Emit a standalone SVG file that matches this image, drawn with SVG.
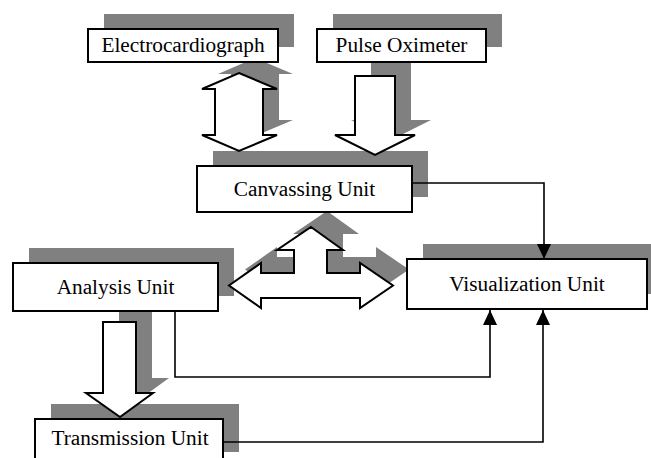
<svg xmlns="http://www.w3.org/2000/svg" width="651" height="458" viewBox="0 0 651 458">
<style>
.sh{fill:#808080;stroke:none}
.box{fill:#fff;stroke:#000;stroke-width:2}
.arr{fill:#fff;stroke:#000;stroke-width:2;stroke-linejoin:miter}
.con{fill:none;stroke:#000;stroke-width:1.6}
text{font-family:"Liberation Serif","Times New Roman",serif;font-size:21.3px;fill:#000;text-anchor:middle}
</style>
<defs>
<marker id="ah" viewBox="0 0 15 14" refX="15" refY="7" markerWidth="15" markerHeight="14" markerUnits="userSpaceOnUse" orient="auto">
<path d="M0,0 L15,7 L0,14 z" fill="#000"/>
</marker>
<polygon id="pEcgArr" points="239,73 277,89 263,89 263,135 277,135 239,151 202,135 215,135 215,89 202,89"/>
<polygon id="pPulseArr" points="355,76 395,76 395,135 415,135 375,155 335,135 355,135"/>
<polygon id="pQuadArr" points="311,227 343,250 327,250 327,273 360,273 360,263 393,285.5 360,308 360,298 261,298 261,308 229,285.5 261,263 261,273 294,273 294,250 277,250"/>
<polygon id="pAnaArr" points="103,322 136,322 136,393 153,393 120,417 86,393 103,393"/>
</defs>
<g id="shadows" transform="translate(16,-15)">
<rect class="sh" x="88" y="29" width="190" height="33"/>
<rect class="sh" x="317" y="29" width="169" height="33"/>
<rect class="sh" x="197" y="166" width="215" height="46"/>
<rect class="sh" x="13" y="263" width="205" height="48"/>
<rect class="sh" x="407" y="259" width="240" height="50"/>
<rect class="sh" x="35" y="419" width="188" height="48"/>
<use href="#pEcgArr" class="sh"/>
<use href="#pPulseArr" class="sh"/>
<use href="#pQuadArr" class="sh" transform="translate(0,-1)"/>
<use href="#pAnaArr" class="sh"/>
</g>
<g id="connectors">
<use href="#pEcgArr" class="arr"/>
<use href="#pPulseArr" class="arr"/>
<use href="#pQuadArr" class="arr"/>
<use href="#pAnaArr" class="arr"/>
<polyline class="con" points="412,183 544,183 544,259" marker-end="url(#ah)"/>
<polyline class="con" points="175,311 175,377 490,377 490,310" marker-end="url(#ah)"/>
<polyline class="con" points="223,442 543,442 543,310" marker-end="url(#ah)"/>
</g>
<g id="electrocardiograph">
<rect class="box" x="88" y="29" width="190" height="33"/>
<text x="183" y="52">Electrocardiograph</text>
</g>
<g id="pulse-oximeter">
<rect class="box" x="317" y="29" width="169" height="33"/>
<text x="401.5" y="52">Pulse Oximeter</text>
</g>
<g id="canvassing-unit">
<rect class="box" x="197" y="166" width="215" height="46"/>
<text x="304.5" y="196">Canvassing Unit</text>
</g>
<g id="analysis-unit">
<rect class="box" x="13" y="263" width="205" height="48"/>
<text x="115.5" y="294">Analysis Unit</text>
</g>
<g id="visualization-unit">
<rect class="box" x="407" y="259" width="240" height="50"/>
<text x="527" y="291">Visualization Unit</text>
</g>
<g id="transmission-unit">
<rect class="box" x="35" y="419" width="188" height="48"/>
<text x="130" y="445">Transmission Unit</text>
</g>
</svg>
